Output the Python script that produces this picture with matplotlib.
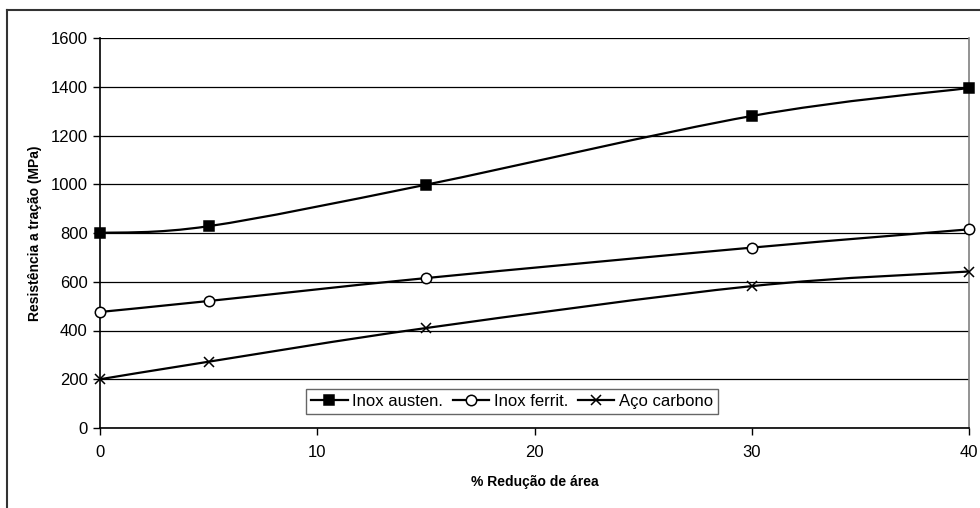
import numpy as np
import matplotlib.pyplot as plt
from matplotlib.path import Path
from matplotlib.patches import PathPatch
from matplotlib.lines import Line2D

plt.rcParams['font.family'] = ['Liberation Sans', 'DejaVu Sans']

reducao = [0, 5, 15, 30, 40]
inox_austen = [800, 828, 998, 1280, 1395]
inox_ferrit = [476, 521, 615, 740, 815]
aco_carbono = [200, 272, 410, 582, 642]

series = [
    ('Inox austen.', inox_austen, dict(marker='s', markerfacecolor='black')),
    ('Inox ferrit.', inox_ferrit, dict(marker='o', markerfacecolor='white')),
    ('Aço carbono', aco_carbono, dict(marker='x', markerfacecolor='black')),
]


def smooth_path(xs, ys):
    # Excel-style smoothed line: cubic Bezier through the points
    p = np.column_stack([xs, ys]).astype(float)
    n = len(p)
    verts = [p[0]]
    codes = [Path.MOVETO]
    for i in range(n - 1):
        p0 = p[max(i - 1, 0)]
        p3 = p[min(i + 2, n - 1)]
        c1 = p[i] + (p[i + 1] - p0) / 6.0
        c2 = p[i + 1] - (p3 - p[i]) / 6.0
        verts += [c1, c2, p[i + 1]]
        codes += [Path.CURVE4] * 3
    return Path(verts, codes)


fig = plt.figure(figsize=(9.8, 5.08), dpi=100)
ax = fig.add_axes([100 / 980, 1 - 428 / 508, 869 / 980, 390 / 508])

for label, vals, style in series:
    ax.add_patch(PathPatch(smooth_path(reducao, vals), fill=False,
                           edgecolor='black', lw=1.6, zorder=3))
    ax.plot(reducao, vals, linestyle='none', color='black',
            markeredgecolor='black', markersize=7.5, markeredgewidth=1.1,
            zorder=4, clip_on=False, **style)

ax.set_xlim(0, 40)
ax.set_ylim(0, 1600)
ax.set_xticks(range(0, 41, 10))
ax.set_yticks(range(0, 1601, 200))
ax.yaxis.grid(True, color='black', lw=0.9)
ax.set_axisbelow(True)
ax.tick_params(direction='out', length=5, width=1, labelsize=12, pad=4)
ax.tick_params(axis='x', pad=7)

for s in ['left', 'bottom']:
    ax.spines[s].set_color('black')
    ax.spines[s].set_linewidth(1.2)
ax.spines['top'].set_visible(False)
ax.spines['right'].set_color('#808080')
ax.spines['right'].set_linewidth(1.2)

ax.set_xlabel('% Redução de área', fontsize=10, fontweight='bold', labelpad=11)
ax.set_ylabel('Resistência a tração (MPa)', fontsize=10, fontweight='bold', labelpad=6)

handles = [Line2D([], [], color='black', lw=1.6, markeredgecolor='black',
                  markersize=7.5, markeredgewidth=1.1, **style)
           for _, _, style in series]
leg = ax.legend(handles, [s[0] for s in series], ncol=3, loc='center',
                bbox_to_anchor=(0.474, 0.069), fontsize=12, frameon=True,
                fancybox=False, edgecolor='#404040', handlelength=2.2,
                handletextpad=0.25, columnspacing=0.6, borderpad=0.3,
                borderaxespad=0)
leg.get_frame().set_linewidth(1.0)

# outer chart border
fig.add_artist(Line2D([7 / 980, 7 / 980], [0, 1 - 10 / 508], color='#333333', lw=1.5))
fig.add_artist(Line2D([7 / 980, 1], [1 - 10 / 508, 1 - 10 / 508], color='#333333', lw=1.5))

fig.savefig('out.png', dpi=100)
